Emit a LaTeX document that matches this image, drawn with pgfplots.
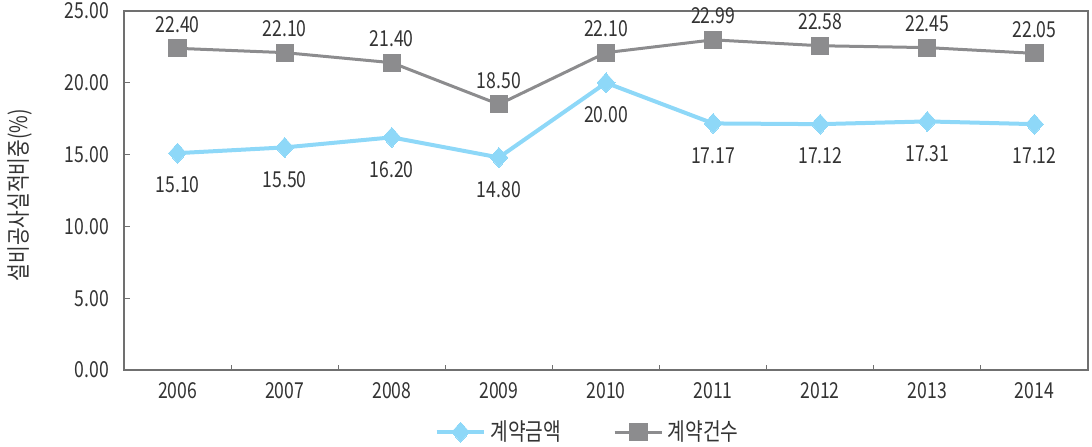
\documentclass[border=0pt]{standalone}
\usepackage{fontspec}
\setmainfont{Noto Sans CJK KR}[FakeStretch=0.8]
\usepackage{pgfplots}
\pgfplotsset{compat=1.18}
\definecolor{amt}{HTML}{8ED8F8}
\definecolor{cnt}{HTML}{8C8C8E}
\definecolor{axisgray}{HTML}{707070}
\definecolor{txt}{HTML}{333333}

\begin{document}
\begin{tikzpicture}
\begin{axis}[
  scale only axis,
  width=482pt, height=179.5pt,
  xmin=-0.5, xmax=8.5, ymin=0, ymax=25,
  xtick={0,...,8},
  xticklabels={2006,2007,2008,2009,2010,2011,2012,2013,2014},
  minor xtick={0.5,1.5,...,7.5},
  major x tick style={draw=none},
  minor tick length=2.5pt,
  ytick={0,5,...,25},
  major tick length=3pt,
  tick align=inside,
  xtick pos=bottom, ytick pos=left,
  axis line style={axisgray, line width=0.6pt},
  tick style={axisgray, line width=0.6pt},
  /pgf/number format/assume math mode=true,
  ticklabel style={font=\fontsize{11}{13}\selectfont, text=txt},
  yticklabel style={xshift=-4pt, /pgf/number format/fixed, /pgf/number format/fixed zerofill, /pgf/number format/precision=2},
  xticklabel style={yshift=-2.5pt},
  ylabel={설비공사실적비중(\%)},
  ylabel style={at={(axis description cs:-0.108,0.487)}, anchor=center,
    font=\fontsize{12}{14}\selectfont, text=txt},
  nodes near coords,
  every node near coord/.append style={/pgf/number format/fixed, /pgf/number format/fixed zerofill, /pgf/number format/precision=2,
    font=\fontsize{11}{13}\selectfont, text=txt, anchor=center},
  legend style={at={(0.482,-0.173)}, anchor=center, draw=none, fill=none,
    legend columns=-1, font=\fontsize{12}{14}\selectfont, text=txt,
    /tikz/every even column/.append style={column sep=24pt}},
  legend image code/.code={\draw[mark repeat=2,mark phase=2] plot coordinates {(0cm,0cm) (0.42cm,0cm) (0.84cm,0cm)};},
]
\addplot[amt, line width=2pt, mark=diamond*, mark size=5pt, mark options={xscale=1.2, fill=amt, draw=amt, line width=0pt},
  every node near coord/.append style={yshift=-16pt}]
  coordinates {(0,15.10) (1,15.50) (2,16.20) (3,14.80) (4,20.00) (5,17.17) (6,17.12) (7,17.31) (8,17.12)};
\addlegendentry{계약금액}
\addplot[cnt, line width=1.5pt, mark=square*, mark size=4.3pt, mark options={fill=cnt, draw=cnt, line width=0pt},
  every node near coord/.append style={yshift=12pt}]
  coordinates {(0,22.40) (1,22.10) (2,21.40) (3,18.50) (4,22.10) (5,22.99) (6,22.58) (7,22.45) (8,22.05)};
\addlegendentry{계약건수}
\end{axis}
\pgfresetboundingbox
\path[use as bounding box] ([shift={(-62pt,-38.5pt)}]current axis.south west) rectangle ([shift={(2pt,5.5pt)}]current axis.north east);
\end{tikzpicture}
\end{document}
